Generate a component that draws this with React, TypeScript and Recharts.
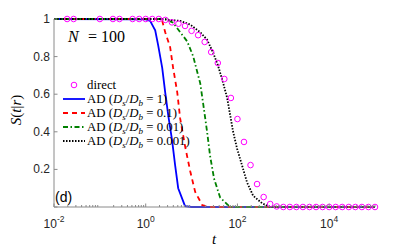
import React from "react"
import { LineChart, Line, XAxis, YAxis } from "recharts"

// survival probability S(t|r), N = 100
const directT = [
  0.0193, 0.0268, 0.1, 0.193, 0.268, 0.518, 0.72, 1, 1.39, 1.93, 2.68, 3.73, 5.18, 7.2, 10, 13.9, 19.3, 26.8,
  37.3, 51.8, 72, 100, 139, 193, 268, 373, 518, 720, 1000, 1390, 1930, 2680, 3730, 5180, 7200, 10000, 13900,
  19300, 26800, 37300, 51800, 72000, 100000,
]
const directS = [
  1, 1, 1, 1, 1, 1, 1, 1, 1, 1, 0.995, 0.982, 0.975, 0.963, 0.937, 0.914, 0.878, 0.824, 0.766, 0.681, 0.58,
  0.468, 0.346, 0.223, 0.122, 0.053, 0.016, 0.003, 0, 0, 0, 0, 0, 0, 0, 0, 0, 0, 0, 0, 0, 0, 0,
]

const blueT = [0.01, 1, 1.25, 1.61, 1.87, 2.29, 2.66, 3.09, 3.78, 4.39, 5.11, 7.2, 10, 100000]
const blueS = [1, 0.998, 0.99, 0.94, 0.86, 0.74, 0.61, 0.49, 0.35, 0.22, 0.1, 0.005, 0, 0]

const redT = [0.01, 1.6, 2.29, 2.66, 3.41, 3.96, 4.87, 5.65, 7.26, 9.35, 12, 17.1, 25, 100000]
const redS = [1, 1, 0.99, 0.93, 0.85, 0.74, 0.61, 0.47, 0.32, 0.19, 0.08, 0.01, 0, 0]

const greenT = [0.01, 2.66, 3.96, 5.65, 8.07, 10.9, 13.9, 15.4, 17.9, 21.8, 25.4, 31, 42, 69, 100000]
const greenS = [1, 1, 0.98, 0.93, 0.88, 0.8, 0.7, 0.66, 0.55, 0.4, 0.27, 0.15, 0.05, 0, 0]

const blackT = [0.01, 2, 5.65, 9.35, 15.4, 21.8, 29.6, 38, 48.8, 59.7, 69.3, 80.6, 98.4, 126.5, 162.6, 220, 345, 515, 100000]
const blackS = [1, 1, 0.99, 0.97, 0.93, 0.89, 0.82, 0.75, 0.66, 0.58, 0.49, 0.4, 0.31, 0.22, 0.13, 0.06, 0.02, 0, 0]

const xMajor = [0.01, 1, 100, 10000]
const xMajorExp = ["-2", "0", "2", "4"]
const yTicks = [0, 0.2, 0.4, 0.6, 0.8, 1]
const yLabels = ["", "0.2", "0.4", "0.6", "0.8", "1"]

const xMinor: number[] = []
for (let d = -2; d <= 4; d++) {
  for (let m = 2; m <= 9; m++) xMinor.push(m * Math.pow(10, d))
}
const xTicks = [...xMajor, ...xMinor, 100000].sort((a, b) => a - b)

const pts = (t: number[], s: number[]) => t.map((v, i) => ({ t: v, s: s[i] }))

const AXIS = "#8a8a8a"
const TEXT = "#262626"
const SANS = "'Liberation Sans', Arial, sans-serif"
const SERIF = "'Liberation Serif', 'Times New Roman', serif"

const isMajor = (v: number) => xMajor.some((m) => Math.abs(m - v) / m < 1e-6)

function BottomTick(props: any) {
  const { x, y, payload } = props
  const v = payload.value
  const major = isMajor(v)
  const idx = xMajor.findIndex((m) => Math.abs(m - v) / m < 1e-6)
  return (
    <g>
      <line x1={x} y1={y} x2={x} y2={y - (major ? 3.5 : 2)} stroke={AXIS} strokeWidth={1} />
      {major && (
        <text x={x} y={y + 21} textAnchor="middle" fontFamily={SANS} fontSize={12} fill={TEXT}>
          <tspan>10</tspan>
          <tspan dy={-6} fontSize={8.5}>
            {xMajorExp[idx]}
          </tspan>
        </text>
      )}
    </g>
  )
}

function TopTick(props: any) {
  const { x, y, payload } = props
  const major = isMajor(payload.value)
  return <line x1={x} y1={y} x2={x} y2={y + (major ? 3.5 : 2)} stroke={AXIS} strokeWidth={1} />
}

function LeftTick(props: any) {
  const { x, y, payload, index } = props
  return (
    <g>
      <line x1={x} y1={y} x2={x + 3.5} y2={y} stroke={AXIS} strokeWidth={1} />
      <text x={x - 4} y={y + 4} textAnchor="end" fontFamily={SANS} fontSize={12} fill={TEXT}>
        {yLabels[index] ?? String(payload.value)}
      </text>
    </g>
  )
}

function RightTick(props: any) {
  const { x, y } = props
  return <line x1={x} y1={y} x2={x - 3.5} y2={y} stroke={AXIS} strokeWidth={1} />
}

function AdLabel({ x, y, val }: { x: number; y: number; val: string }) {
  return (
    <text x={x} y={y} fontFamily={SERIF} fontSize={12.8} fill="#000">
      <tspan>AD (</tspan>
      <tspan fontStyle="italic">D</tspan>
      <tspan fontStyle="italic" fontSize={9} dy={3}>s</tspan>
      <tspan dy={-3}>/</tspan>
      <tspan fontStyle="italic">D</tspan>
      <tspan fontStyle="italic" fontSize={9} dy={3}>b</tspan>
      <tspan dy={-3}> = {val})</tspan>
    </text>
  )
}

const legendRows = [
  { color: "#0000ff", dash: undefined, val: "1" },
  { color: "#ff0000", dash: "5 4", val: "0.1" },
  { color: "#008000", dash: "5 2.5 1.5 2.5", val: "0.01" },
  { color: "#000000", dash: "1.5 1.5", val: "0.001" },
]

export default function App() {
  return (
    <div style={{ position: "absolute", left: 0, top: 0, width: 414, height: 249, background: "#fff" }}>
      <LineChart width={414} height={249} margin={{ top: 19, right: 39, bottom: 0, left: 0 }}>
        <XAxis
          dataKey="t"
          type="number"
          scale="log"
          domain={[0.01, 100000]}
          ticks={xTicks}
          interval={0}
          tickLine={false}
          tickSize={0}
          tickMargin={0}
          height={42}
          axisLine={{ stroke: AXIS }}
          tick={(p: any) => <BottomTick {...p} />}
        />
        <XAxis
          xAxisId="top"
          orientation="top"
          dataKey="t"
          type="number"
          scale="log"
          domain={[0.01, 100000]}
          ticks={xTicks}
          interval={0}
          tickLine={false}
          tickSize={0}
          tickMargin={0}
          height={0}
          axisLine={{ stroke: AXIS }}
          tick={(p: any) => <TopTick {...p} />}
        />
        <YAxis
          type="number"
          domain={[0, 1]}
          ticks={yTicks}
          interval={0}
          tickLine={false}
          tickSize={0}
          tickMargin={0}
          width={54}
          axisLine={{ stroke: AXIS }}
          tick={(p: any) => <LeftTick {...p} />}
        />
        <YAxis
          yAxisId="right"
          orientation="right"
          type="number"
          domain={[0, 1]}
          ticks={yTicks}
          interval={0}
          tickLine={false}
          tickSize={0}
          tickMargin={0}
          width={0}
          axisLine={{ stroke: AXIS }}
          tick={(p: any) => <RightTick {...p} />}
        />
        <Line
          data={pts(directT, directS)}
          dataKey="s"
          stroke="none"
          strokeWidth={0}
          dot={{ r: 2.8, stroke: "#ff00ff", strokeWidth: 1, fill: "none" }}
          activeDot={false}
          isAnimationActive={false}
        />
        <Line data={pts(blueT, blueS)} dataKey="s" stroke="#0000ff" strokeWidth={1.8} dot={false} activeDot={false} isAnimationActive={false} />
        <Line data={pts(redT, redS)} dataKey="s" stroke="#ff0000" strokeWidth={1.8} strokeDasharray="5 4" dot={false} activeDot={false} isAnimationActive={false} />
        <Line data={pts(greenT, greenS)} dataKey="s" stroke="#008000" strokeWidth={1.8} strokeDasharray="5 2.5 1.5 2.5" dot={false} activeDot={false} isAnimationActive={false} />
        <Line data={pts(blackT, blackS)} dataKey="s" stroke="#000000" strokeWidth={1.8} strokeDasharray="1.5 1.5" dot={false} activeDot={false} isAnimationActive={false} />
      </LineChart>

      <svg width={414} height={249} style={{ position: "absolute", left: 0, top: 0, pointerEvents: "none" }}>
        <text y={42} fontFamily={SERIF} fontSize={16} fill="#000">
          <tspan x={68} fontStyle="italic">N</tspan>
          <tspan x={88}>=</tspan>
          <tspan x={101}>100</tspan>
        </text>
        <text x={55} y={202} fontFamily={SANS} fontSize={14} fill="#000">(d)</text>
        <text x={214} y={244} textAnchor="middle" fontFamily={SERIF} fontSize={15} fontStyle="italic" fill="#000">t</text>
        <text
          transform="translate(21,110) rotate(-90)"
          textAnchor="middle"
          fontFamily={SERIF}
          fontSize={15}
          fill="#000"
        >
          <tspan fontStyle="italic">S</tspan>
          <tspan>(</tspan>
          <tspan fontStyle="italic">t</tspan>
          <tspan>|</tspan>
          <tspan fontStyle="italic">r</tspan>
          <tspan>)</tspan>
        </text>

        <circle cx={74} cy={85} r={2.8} stroke="#ff00ff" strokeWidth={1} fill="none" />
        <text x={87} y={89} fontFamily={SERIF} fontSize={12.8} fill="#000">direct</text>
        {legendRows.map((r, i) => (
          <g key={r.val}>
            <line x1={63} x2={85} y1={99 + i * 14} y2={99 + i * 14} stroke={r.color} strokeWidth={1.8} strokeDasharray={r.dash} />
            <AdLabel x={87} y={103 + i * 14} val={r.val} />
          </g>
        ))}
      </svg>
    </div>
  )
}
